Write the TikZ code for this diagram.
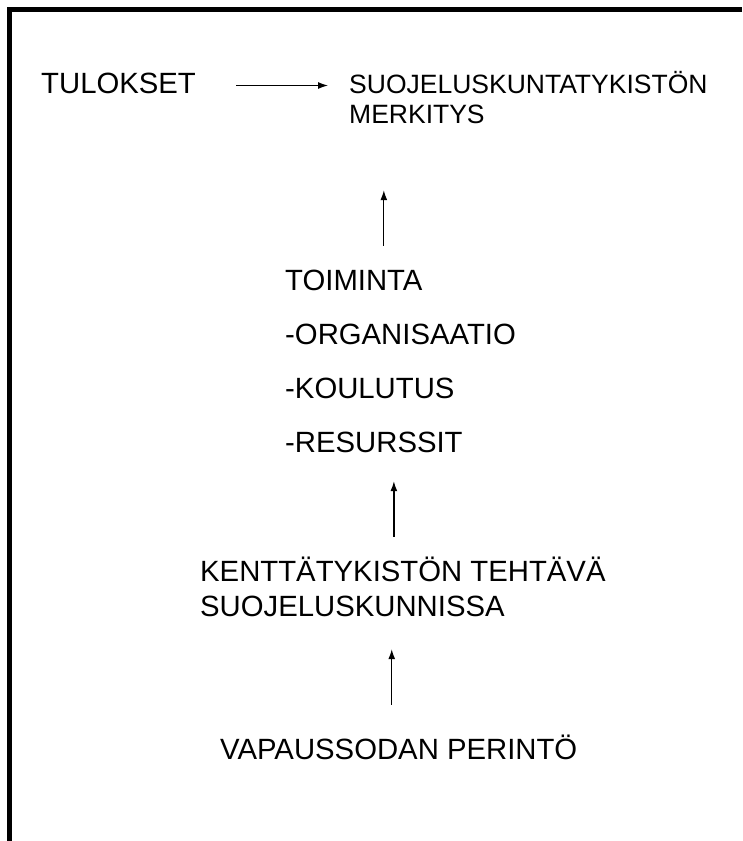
\documentclass[tikz,border=0pt]{standalone}
\usepackage{fontspec}
\setmainfont{Liberation Sans}
\usetikzlibrary{arrows.meta}

\begin{document}
\begin{tikzpicture}[x=1pt,y=-1pt,
    txt/.style={anchor=base west,inner sep=0pt,text height=21pt,text depth=0pt,font=\fontsize{29.3}{35}\selectfont},
    small/.style={txt,text height=19pt,font=\fontsize{26.5}{32}\selectfont},
    arr/.style={-{Latex[length=10pt,width=7pt]},line width=1.3pt}]
                \useasboundingbox (0,0) rectangle (742,841);
                \draw[line width=5pt] (742,9.5) -- (9.5,9.5) -- (9.5,841);
                \node[txt] (tulokset) at (41,93) {TULOKSET};
                \node[small] (suoj) at (349,93) {SUOJELUSKUNTATYKISTÖN};
                \node[small] (merkitys) at (349,123) {MERKITYS};
                \node[txt] (toiminta) at (285,290) {TOIMINTA};
                \node[txt] (org) at (285,344) {-ORGANISAATIO};
                \node[txt] (koulutus) at (285,398) {-KOULUTUS};
                \node[txt] (resurssit) at (285,452) {-RESURSSIT};
                \node[txt] (kentta) at (200,581) {KENTTÄTYKISTÖN TEHTÄVÄ};
                \node[txt] (kunnissa) at (200,616) {SUOJELUSKUNNISSA};
                \node[txt] (vapaus) at (220,759) {VAPAUSSODAN PERINTÖ};
                \draw[arr,shorten <=40pt,shorten >=21pt] ([yshift=-3pt]tulokset.east) -- ([yshift=-3pt]tulokset.east -| suoj.west);
                \draw[arr,shorten <=23pt,shorten >=67pt] ([xshift=30pt]toiminta.north) -- ([xshift=30pt]toiminta.north |- merkitys.south);
                \draw[arr,shorten <=23pt,shorten >=29pt] ([xshift=-9pt]kentta.north) -- ([xshift=-9pt]kentta.north |- resurssit.south);
                \draw[arr,shorten <=33pt,shorten >=33pt] ([xshift=-7pt]vapaus.north) -- ([xshift=-7pt]vapaus.north |- kunnissa.south);
            \end{tikzpicture}
\end{document}
